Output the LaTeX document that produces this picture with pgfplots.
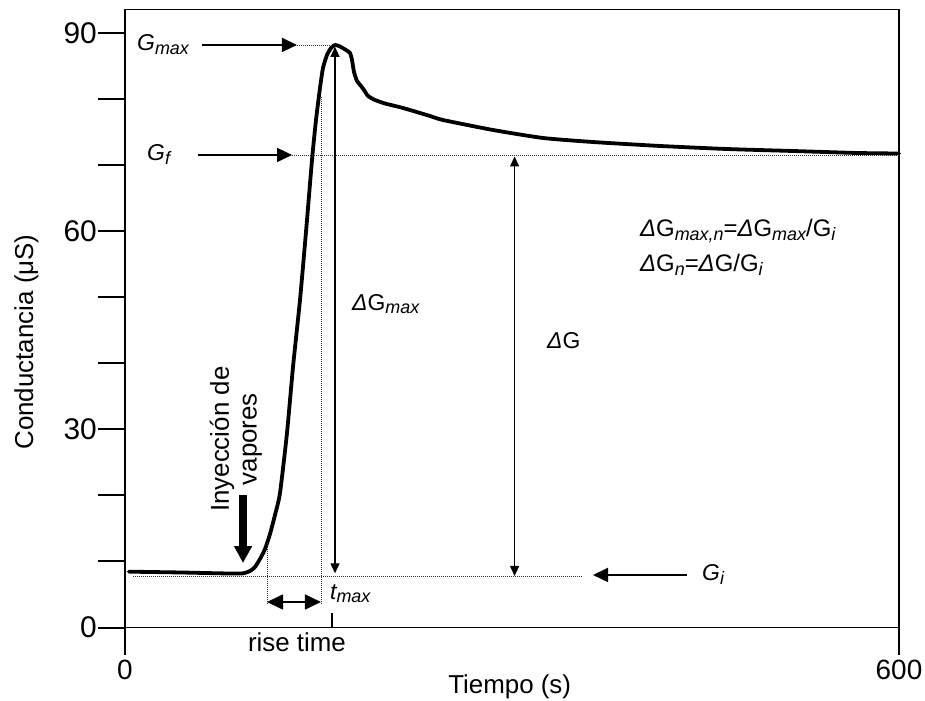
\documentclass[border=0pt]{standalone}
\usepackage{pgfplots}
\pgfplotsset{compat=1.18}
\usepackage{fontspec}
\setmainfont{Liberation Sans}
\usetikzlibrary{arrows.meta}
\newcommand{\fs}[1]{\fontsize{#1}{#1}\selectfont}
\newcommand{\sub}[1]{\raisebox{-0.15em}{\fontsize{18}{18}\selectfont\itshape #1}}
\tikzset{
  dots/.style={line width=0.8bp, black!80, dash pattern=on 1bp off 1bp},
  tharrow/.style={line width=1.8bp, -{Triangle[length=15bp,width=14bp]}},
  dbl/.style={line width=1.8bp, {Triangle[length=16bp,width=15bp]}-{Triangle[length=16bp,width=15bp]}},
  vdbl/.style={line width=1.2bp, {Triangle[length=10bp,width=9bp]}-{Triangle[length=10bp,width=9bp]}},
}
\begin{document}
\begin{tikzpicture}
\useasboundingbox (-125bp,-73.5bp) rectangle (800bp,627.5bp);
\begin{axis}[
  at={(0,0)}, anchor=south west,
  scale only axis, width=774bp, height=618bp,
  xmin=0, xmax=600, ymin=0, ymax=93.55,
  clip=false,
  axis line style={line width=1.6bp},
  every tick/.style={line width=2bp, black},
  tick align=outside, tick pos=left,
  major tick length=27bp,
  xtick={0,600}, xticklabels={0,600},
  ytick={0,10,...,90}, yticklabels={0,,,30,,,60,,,90},
  /pgf/number format/assume math mode=true,
  yticklabel style={font=\fs{30}, inner sep=1pt},
  xticklabel style={font=\fs{28}, inner sep=5pt},
  xlabel={Tiempo (s)},
  xlabel style={font=\fs{26}, at={(axis description cs:0.497,-0.0963)}, anchor=center},
  ylabel={Conductancia (μS)},
  ylabel style={font=\fs{26}, at={(axis description cs:-0.1273,0.462)}, anchor=center},
]
% conductance curve
\addplot[line width=3.8bp, smooth, tension=0.35, line join=round, line cap=round] coordinates {
(3,8.45) (42.64,8.33) (81.40,8.17) (91.47,8.20) (96.90,8.55) (100.78,9.16) (104.65,10.37)
(108.53,11.88) (112.40,14.15) (116.28,17.03) (120.16,20.36) (125.58,29.44) (130.23,39.43)
(135.66,49.58) (140.31,59.87) (144.96,70.77) (148.06,76.82) (151.16,81.67) (153.49,84.70)
(156.59,86.66) (159.69,87.72) (162.79,88.18) (166.67,87.95) (171.32,87.42) (174.42,86.97)
(175.97,85.91) (177.52,84.09) (179.84,82.73) (182.95,81.97) (185.27,81.37) (188.37,80.46)
(193.80,79.85) (201.55,79.32) (215.50,78.64) (236.43,77.43) (246.51,76.82) (285.27,75.31)
(324.03,74.10) (362.79,73.49) (414.73,72.89) (466.67,72.43) (517.83,72.13) (567.44,71.83)
(600,71.75)};
% dotted guide lines
\draw[dots] (6.2,7.8) -- (354.3,7.8);
\draw[dots] (133.3,88.18) -- (161,88.18);
\draw[dots] (129.5,71.53) -- (600,71.53);
\draw[dots] (110.1,12.8) -- (110.1,3.7);
\draw[dots] (151.9,80.3) -- (151.9,3.7);
% arrows
\draw[tharrow] (59.7,88.18) -- (133.3,88.18);
\draw[tharrow] (56.6,71.53) -- (129.5,71.53);
\draw[tharrow] (435.7,7.95) -- (362.8,7.95);
\draw[dbl] (110.1,3.86) -- (151.9,3.86);
\draw[vdbl] (162.8,8.2) -- (162.8,87.9);
\draw[vdbl] (302,7.8) -- (302,71.3);
\draw[line width=8bp, -{Triangle[length=17bp,width=17bp]}] (91.5,20.06) -- (91.5,9.76);
\draw[line width=2bp] (160.5,0) -- (160.5,2.2);
% labels
\node[anchor=base west, font=\fs{23}\itshape, inner sep=0] at (9.3,87.27) {G\sub{max}};
\node[anchor=base west, font=\fs{23}\itshape, inner sep=0] at (17.05,70.62) {G\sub{f}};
\node[anchor=base west, font=\fs{23}\itshape, inner sep=0] at (447.3,7.04) {G\sub{i}};
\node[anchor=base west, font=\fs{23}\itshape, inner sep=0] at (158.9,4.31) {t\sub{max}};
\node[anchor=base west, font=\fs{23}, inner sep=0] at (176,48.0) {\textit{Δ}G\sub{max}};
\node[anchor=base west, font=\fs{23}, inner sep=0] at (327.1,42.3) {\textit{Δ}G};
\node[anchor=base west, font=\fs{24}, inner sep=0] at (399.2,59.16) {\textit{Δ}G\sub{max,n}=\textit{Δ}G\sub{max}/G\sub{i}};
\node[anchor=base west, font=\fs{24}, inner sep=0] at (399.2,53.86) {\textit{Δ}G\sub{n}=\textit{Δ}G/G\sub{i}};
\node[rotate=90, align=center, font={\fontsize{26}{28}\selectfont}, inner sep=0] at (86.0,28.5) {Inyección de\\vapores};
\node[anchor=base, font=\fs{26}, inner sep=0] at (133.3,-3.7) {rise time};
\end{axis}
\end{tikzpicture}
\end{document}
